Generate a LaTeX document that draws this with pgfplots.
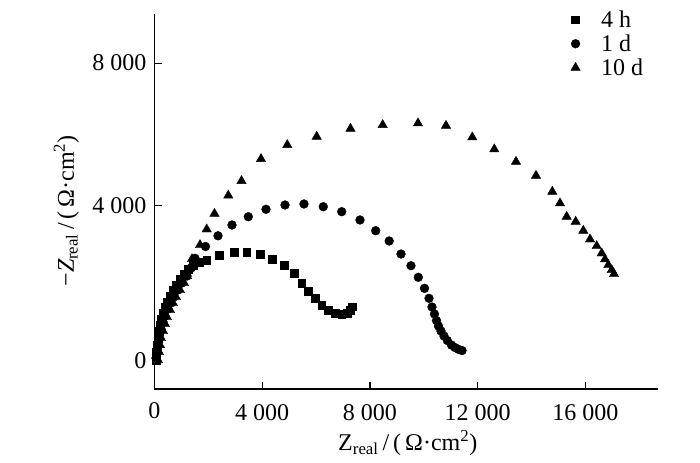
\documentclass[border=0pt]{standalone}
\usepackage{fontspec}
\setmainfont{Liberation Serif}
\usepackage{pgfplots}
\pgfplotsset{compat=1.18}

\begin{document}
\fontsize{24bp}{28bp}\selectfont
\begin{tikzpicture}
\useasboundingbox (-154.5bp,-74bp) rectangle (545.5bp,389bp);
\begin{axis}[
  at={(0,0)}, anchor=south west,
  scale only axis, width=503.5bp, height=375bp,
  xmin=0, xmax=18700, ymin=-1150, ymax=9380,
  axis x line*=bottom, axis y line*=left,
  axis line style={line width=1.2bp, black},
  clip=false,
  xtick={4000,8000,12000,16000},
  ytick={4000,8000},
  extra x ticks={0},
  extra x tick style={major tick length=0pt, xticklabel style={yshift=2bp}},
  extra y ticks={0},
  extra y tick style={major tick length=0pt, yticklabel style={yshift=-13bp}},
  tick align=inside,
  major tick length=7bp,
  tick style={line width=1.2bp, black},
  scaled ticks=false,
  /pgf/number format/.cd, 1000 sep={\ }, assume math mode=true, /pgfplots/.cd,
  xticklabel style={yshift=-7bp},
  xlabel={Z\textsubscript{real}\,/\,(\,Ω·cm\textsuperscript{2})},
  ylabel={−{\itshape Z}\textsubscript{real}\,/\,(\,Ω·cm\textsuperscript{2})},
  every axis x label/.style={at={(axis description cs:0.503,-0.145)}, anchor=center},
  every axis y label/.style={at={(axis description cs:-0.175,0.475)}, anchor=center, rotate=90},
  legend style={at={(axis description cs:0.827,1.006)}, anchor=north west, draw=none, fill=none,
    inner sep=0bp, outer sep=0bp, row sep=8bp,
    nodes={inner sep=0bp, text height=16bp, text depth=0bp, anchor=west},
    /tikz/every even column/.append style={column sep=0bp}},
  legend cell align=left,
  legend image code/.code={\draw[#1, only marks] plot coordinates {(0bp,0bp)};},
]
\addplot[only marks, mark=square*, mark size=3.9bp, black] coordinates {
(56,-337)(74,-112)(93,84)(130,281)(167,478)(204,646)(241,815)(316,983)(390,1152)
(464,1292)(576,1461)(687,1629)(799,1770)(947,1938)(1096,2079)(1244,2219)(1430,2331)
(1653,2416)(1939,2472)(2407,2612)(2953,2689)(3424,2697)(3918,2641)(4375,2492)
(4828,2317)(5200,2098)(5467,1826)(5712,1601)(5961,1396)(6210,1208)(6455,1067)
(6704,975)(6953,947)(7150,975)(7261,1053)(7335,1160)
};
\addlegendentry{\hspace{21bp}4 h}
\addplot[only marks, mark=*, mark size=4.4bp, black] coordinates {
(56,-281)(93,-56)(130,140)(167,337)(241,534)(316,730)(390,899)(501,1096)(613,1264)
(724,1433)(873,1629)(1021,1826)(1207,2022)(1356,2247)(1504,2520)(1894,2851)
(2358,3152)(2878,3455)(3484,3688)(4141,3896)(4847,4017)(5552,4045)(6269,3969)
(6953,3829)(7632,3596)(8215,3295)(8717,3006)(9155,2640)(9526,2312)(9798,1986)
(10028,1677)(10195,1396)(10306,1152)(10399,955)(10473,772)(10548,618)(10641,478)
(10752,337)(10875,211)(11031,84)(11161,14)(11291,-37)(11421,-70)
};
\addlegendentry{\hspace{21bp}1 d}
\addplot[only marks, mark=triangle*, mark size=5.4bp, black] coordinates {
(130,-337)(167,-112)(204,84)(241,281)(316,478)(390,674)(464,871)(576,1067)(687,1264)
(799,1433)(947,1629)(1096,1826)(1207,2022)(1318,2247)(1393,2500)(1690,2893)
(1939,3334)(2228,3773)(2741,4284)(3231,4691)(3955,5309)(4932,5702)(6024,5936)
(7279,6160)(8475,6264)(9786,6312)(10826,6244)(11803,5919)(12620,5582)(13426,5233)
(14169,4840)(14774,4391)(15060,4065)(15309,3688)(15643,3548)(15926,3295)
(16175,3053)(16423,2865)(16609,2660)(16732,2492)(16854,2331)(16981,2191)(17066,2079)
};
\addlegendentry{\hspace{21bp}10 d}
\end{axis}
\end{tikzpicture}
\end{document}
